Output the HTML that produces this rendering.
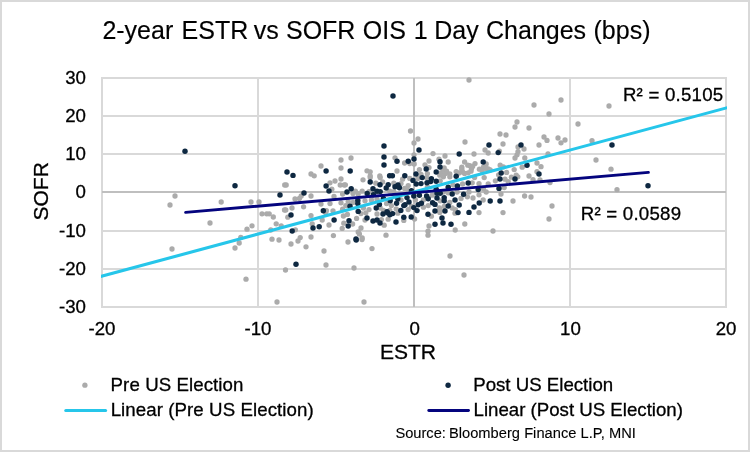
<!DOCTYPE html>
<html lang="en"><head><meta charset="utf-8"><title>2-year ESTR vs SOFR OIS 1 Day Changes (bps)</title>
<style>
html,body{margin:0;padding:0;background:#fff;}
body{width:750px;height:452px;overflow:hidden;}
svg{display:block;}
text{font-family:"Liberation Sans",Arial,sans-serif;fill:#000;stroke:#000;stroke-width:0.3px;}
.t{font-size:18.67px;}
</style></head><body>
<svg width="750" height="452" viewBox="0 0 750 452">
<rect x="0" y="0" width="750" height="452" fill="#fff"/>
<rect x="1" y="1" width="748" height="450" fill="none" stroke="#d9d9d9" stroke-width="2"/>

<g fill="#d9d9d9" shape-rendering="crispEdges">
<rect x="101" y="77" width="626" height="2"/>
<rect x="101" y="115" width="626" height="2"/>
<rect x="101" y="153" width="626" height="2"/>
<rect x="101" y="230" width="626" height="2"/>
<rect x="101" y="268" width="626" height="2"/>
<rect x="101" y="306" width="626" height="2"/>
<rect x="101" y="77" width="2" height="231"/>
<rect x="257" y="77" width="2" height="231"/>
<rect x="569" y="77" width="2" height="231"/>
<rect x="725" y="77" width="2" height="231"/>
</g>
<g fill="#bfbfbf" shape-rendering="crispEdges">
<rect x="102" y="191" width="624" height="2"/>
<rect x="413" y="78" width="2" height="229"/>
</g>
<g fill="#ababab">
<circle cx="175.0" cy="196.0" r="2.65"/>
<circle cx="170.0" cy="205.0" r="2.65"/>
<circle cx="221.2" cy="202.0" r="2.65"/>
<circle cx="251.0" cy="202.0" r="2.65"/>
<circle cx="259.0" cy="202.0" r="2.65"/>
<circle cx="284.7" cy="185.0" r="2.65"/>
<circle cx="284.5" cy="210.0" r="2.65"/>
<circle cx="210.0" cy="223.0" r="2.65"/>
<circle cx="172.0" cy="249.0" r="2.65"/>
<circle cx="247.0" cy="229.2" r="2.65"/>
<circle cx="252.0" cy="225.8" r="2.65"/>
<circle cx="240.8" cy="237.5" r="2.65"/>
<circle cx="239.2" cy="243.0" r="2.65"/>
<circle cx="235.0" cy="248.0" r="2.65"/>
<circle cx="262.0" cy="213.8" r="2.65"/>
<circle cx="266.7" cy="213.8" r="2.65"/>
<circle cx="269.2" cy="213.8" r="2.65"/>
<circle cx="273.3" cy="217.0" r="2.65"/>
<circle cx="276.2" cy="223.8" r="2.65"/>
<circle cx="281.2" cy="225.8" r="2.65"/>
<circle cx="270.8" cy="230.0" r="2.65"/>
<circle cx="272.0" cy="239.2" r="2.65"/>
<circle cx="279.0" cy="240.0" r="2.65"/>
<circle cx="285.5" cy="270.0" r="2.65"/>
<circle cx="246.0" cy="279.2" r="2.65"/>
<circle cx="277.0" cy="302.0" r="2.65"/>
<circle cx="410.5" cy="131.0" r="2.65"/>
<circle cx="341.0" cy="160.0" r="2.65"/>
<circle cx="341.0" cy="168.0" r="2.65"/>
<circle cx="321.0" cy="166.0" r="2.65"/>
<circle cx="311.0" cy="174.0" r="2.65"/>
<circle cx="314.2" cy="175.8" r="2.65"/>
<circle cx="286.2" cy="185.0" r="2.65"/>
<circle cx="301.2" cy="196.0" r="2.65"/>
<circle cx="299.4" cy="198.4" r="2.65"/>
<circle cx="295.0" cy="199.0" r="2.65"/>
<circle cx="311.0" cy="196.0" r="2.65"/>
<circle cx="330.0" cy="182.8" r="2.65"/>
<circle cx="335.0" cy="181.0" r="2.65"/>
<circle cx="341.0" cy="179.0" r="2.65"/>
<circle cx="340.2" cy="185.0" r="2.65"/>
<circle cx="344.2" cy="185.0" r="2.65"/>
<circle cx="331.8" cy="189.2" r="2.65"/>
<circle cx="334.0" cy="196.4" r="2.65"/>
<circle cx="342.6" cy="194.0" r="2.65"/>
<circle cx="341.0" cy="202.8" r="2.65"/>
<circle cx="330.0" cy="203.6" r="2.65"/>
<circle cx="321.0" cy="204.0" r="2.65"/>
<circle cx="303.6" cy="206.8" r="2.65"/>
<circle cx="292.0" cy="208.0" r="2.65"/>
<circle cx="285.8" cy="210.0" r="2.65"/>
<circle cx="326.4" cy="210.6" r="2.65"/>
<circle cx="333.0" cy="210.8" r="2.65"/>
<circle cx="342.6" cy="209.2" r="2.65"/>
<circle cx="287.8" cy="217.2" r="2.65"/>
<circle cx="311.0" cy="215.6" r="2.65"/>
<circle cx="325.8" cy="212.8" r="2.65"/>
<circle cx="322.2" cy="220.0" r="2.65"/>
<circle cx="312.2" cy="223.8" r="2.65"/>
<circle cx="329.0" cy="225.0" r="2.65"/>
<circle cx="295.4" cy="229.8" r="2.65"/>
<circle cx="343.4" cy="216.0" r="2.65"/>
<circle cx="343.8" cy="223.2" r="2.65"/>
<circle cx="342.2" cy="228.4" r="2.65"/>
<circle cx="333.4" cy="235.6" r="2.65"/>
<circle cx="311.0" cy="237.0" r="2.65"/>
<circle cx="300.2" cy="237.6" r="2.65"/>
<circle cx="298.0" cy="241.0" r="2.65"/>
<circle cx="291.0" cy="244.0" r="2.65"/>
<circle cx="306.0" cy="246.8" r="2.65"/>
<circle cx="324.0" cy="251.0" r="2.65"/>
<circle cx="348.0" cy="242.0" r="2.65"/>
<circle cx="362.0" cy="239.5" r="2.65"/>
<circle cx="372.0" cy="248.6" r="2.65"/>
<circle cx="326.0" cy="265.0" r="2.65"/>
<circle cx="354.0" cy="268.0" r="2.65"/>
<circle cx="364.0" cy="302.0" r="2.65"/>
<circle cx="351.0" cy="158.0" r="2.65"/>
<circle cx="367.0" cy="170.8" r="2.65"/>
<circle cx="370.2" cy="171.8" r="2.65"/>
<circle cx="370.2" cy="175.8" r="2.65"/>
<circle cx="395.0" cy="157.8" r="2.65"/>
<circle cx="404.6" cy="163.0" r="2.65"/>
<circle cx="397.0" cy="171.0" r="2.65"/>
<circle cx="379.8" cy="176.0" r="2.65"/>
<circle cx="363.0" cy="179.8" r="2.65"/>
<circle cx="370.2" cy="177.4" r="2.65"/>
<circle cx="380.2" cy="177.6" r="2.65"/>
<circle cx="345.4" cy="184.8" r="2.65"/>
<circle cx="375.8" cy="183.2" r="2.65"/>
<circle cx="382.6" cy="182.0" r="2.65"/>
<circle cx="393.8" cy="183.2" r="2.65"/>
<circle cx="402.6" cy="179.2" r="2.65"/>
<circle cx="401.0" cy="183.6" r="2.65"/>
<circle cx="404.6" cy="188.4" r="2.65"/>
<circle cx="355.4" cy="191.2" r="2.65"/>
<circle cx="362.2" cy="191.2" r="2.65"/>
<circle cx="353.0" cy="193.6" r="2.65"/>
<circle cx="358.2" cy="194.0" r="2.65"/>
<circle cx="369.0" cy="191.6" r="2.65"/>
<circle cx="389.8" cy="191.2" r="2.65"/>
<circle cx="393.8" cy="191.6" r="2.65"/>
<circle cx="348.2" cy="201.6" r="2.65"/>
<circle cx="353.0" cy="202.4" r="2.65"/>
<circle cx="365.0" cy="200.8" r="2.65"/>
<circle cx="371.4" cy="200.0" r="2.65"/>
<circle cx="377.0" cy="199.2" r="2.65"/>
<circle cx="345.8" cy="205.6" r="2.65"/>
<circle cx="363.4" cy="208.0" r="2.65"/>
<circle cx="369.0" cy="209.6" r="2.65"/>
<circle cx="380.2" cy="208.0" r="2.65"/>
<circle cx="386.6" cy="203.6" r="2.65"/>
<circle cx="391.4" cy="205.6" r="2.65"/>
<circle cx="401.0" cy="200.0" r="2.65"/>
<circle cx="396.2" cy="208.8" r="2.65"/>
<circle cx="389.8" cy="210.4" r="2.65"/>
<circle cx="383.4" cy="210.4" r="2.65"/>
<circle cx="347.4" cy="214.4" r="2.65"/>
<circle cx="356.6" cy="218.4" r="2.65"/>
<circle cx="361.0" cy="213.6" r="2.65"/>
<circle cx="365.8" cy="212.8" r="2.65"/>
<circle cx="365.0" cy="220.0" r="2.65"/>
<circle cx="352.6" cy="224.0" r="2.65"/>
<circle cx="377.0" cy="214.0" r="2.65"/>
<circle cx="381.4" cy="219.6" r="2.65"/>
<circle cx="384.2" cy="225.2" r="2.65"/>
<circle cx="388.2" cy="219.2" r="2.65"/>
<circle cx="397.8" cy="213.2" r="2.65"/>
<circle cx="403.8" cy="220.4" r="2.65"/>
<circle cx="361.0" cy="228.0" r="2.65"/>
<circle cx="358.2" cy="232.0" r="2.65"/>
<circle cx="359.4" cy="234.0" r="2.65"/>
<circle cx="362.2" cy="238.0" r="2.65"/>
<circle cx="386.0" cy="235.2" r="2.65"/>
<circle cx="469.0" cy="80.0" r="2.65"/>
<circle cx="418.0" cy="139.0" r="2.65"/>
<circle cx="414.0" cy="143.0" r="2.65"/>
<circle cx="465.0" cy="142.0" r="2.65"/>
<circle cx="500.0" cy="134.0" r="2.65"/>
<circle cx="506.0" cy="135.0" r="2.65"/>
<circle cx="517.0" cy="122.0" r="2.65"/>
<circle cx="515.0" cy="127.0" r="2.65"/>
<circle cx="529.0" cy="128.0" r="2.65"/>
<circle cx="503.0" cy="144.0" r="2.65"/>
<circle cx="518.0" cy="147.0" r="2.65"/>
<circle cx="524.0" cy="149.0" r="2.65"/>
<circle cx="485.0" cy="150.0" r="2.65"/>
<circle cx="518.0" cy="151.6" r="2.65"/>
<circle cx="433.0" cy="153.6" r="2.65"/>
<circle cx="474.0" cy="154.0" r="2.65"/>
<circle cx="488.2" cy="153.0" r="2.65"/>
<circle cx="445.0" cy="156.0" r="2.65"/>
<circle cx="414.0" cy="154.8" r="2.65"/>
<circle cx="429.0" cy="161.0" r="2.65"/>
<circle cx="439.0" cy="159.2" r="2.65"/>
<circle cx="448.2" cy="162.0" r="2.65"/>
<circle cx="425.0" cy="164.8" r="2.65"/>
<circle cx="414.2" cy="164.0" r="2.65"/>
<circle cx="409.8" cy="163.6" r="2.65"/>
<circle cx="419.4" cy="169.6" r="2.65"/>
<circle cx="429.0" cy="167.6" r="2.65"/>
<circle cx="444.2" cy="168.0" r="2.65"/>
<circle cx="446.6" cy="171.2" r="2.65"/>
<circle cx="441.0" cy="172.8" r="2.65"/>
<circle cx="449.8" cy="174.0" r="2.65"/>
<circle cx="456.2" cy="171.6" r="2.65"/>
<circle cx="461.8" cy="167.2" r="2.65"/>
<circle cx="464.6" cy="162.0" r="2.65"/>
<circle cx="462.6" cy="172.0" r="2.65"/>
<circle cx="427.4" cy="173.6" r="2.65"/>
<circle cx="421.0" cy="174.4" r="2.65"/>
<circle cx="409.8" cy="178.4" r="2.65"/>
<circle cx="417.8" cy="178.4" r="2.65"/>
<circle cx="426.6" cy="177.6" r="2.65"/>
<circle cx="443.4" cy="176.8" r="2.65"/>
<circle cx="449.8" cy="176.8" r="2.65"/>
<circle cx="440.2" cy="180.8" r="2.65"/>
<circle cx="408.2" cy="185.6" r="2.65"/>
<circle cx="406.6" cy="188.8" r="2.65"/>
<circle cx="427.4" cy="186.8" r="2.65"/>
<circle cx="453.0" cy="184.8" r="2.65"/>
<circle cx="462.6" cy="184.0" r="2.65"/>
<circle cx="443.4" cy="192.0" r="2.65"/>
<circle cx="448.2" cy="192.8" r="2.65"/>
<circle cx="457.0" cy="192.0" r="2.65"/>
<circle cx="461.0" cy="198.4" r="2.65"/>
<circle cx="432.2" cy="195.2" r="2.65"/>
<circle cx="415.4" cy="200.0" r="2.65"/>
<circle cx="423.4" cy="200.0" r="2.65"/>
<circle cx="440.2" cy="200.8" r="2.65"/>
<circle cx="449.8" cy="202.4" r="2.65"/>
<circle cx="411.4" cy="206.4" r="2.65"/>
<circle cx="423.4" cy="207.2" r="2.65"/>
<circle cx="428.2" cy="205.6" r="2.65"/>
<circle cx="439.4" cy="208.0" r="2.65"/>
<circle cx="444.2" cy="206.4" r="2.65"/>
<circle cx="452.2" cy="208.0" r="2.65"/>
<circle cx="455.4" cy="209.6" r="2.65"/>
<circle cx="408.2" cy="209.6" r="2.65"/>
<circle cx="440.2" cy="210.4" r="2.65"/>
<circle cx="414.6" cy="219.0" r="2.65"/>
<circle cx="431.4" cy="216.2" r="2.65"/>
<circle cx="439.8" cy="212.4" r="2.65"/>
<circle cx="455.0" cy="213.2" r="2.65"/>
<circle cx="429.0" cy="226.0" r="2.65"/>
<circle cx="428.0" cy="231.2" r="2.65"/>
<circle cx="428.0" cy="235.2" r="2.65"/>
<circle cx="455.2" cy="230.0" r="2.65"/>
<circle cx="464.8" cy="224.0" r="2.65"/>
<circle cx="450.0" cy="256.0" r="2.65"/>
<circle cx="464.0" cy="275.0" r="2.65"/>
<circle cx="499.4" cy="151.2" r="2.65"/>
<circle cx="517.0" cy="154.8" r="2.65"/>
<circle cx="515.0" cy="158.0" r="2.65"/>
<circle cx="524.8" cy="158.0" r="2.65"/>
<circle cx="475.0" cy="163.6" r="2.65"/>
<circle cx="486.2" cy="164.0" r="2.65"/>
<circle cx="469.8" cy="165.6" r="2.65"/>
<circle cx="500.2" cy="165.2" r="2.65"/>
<circle cx="503.4" cy="166.8" r="2.65"/>
<circle cx="471.4" cy="168.8" r="2.65"/>
<circle cx="479.4" cy="169.2" r="2.65"/>
<circle cx="483.4" cy="167.2" r="2.65"/>
<circle cx="488.2" cy="168.8" r="2.65"/>
<circle cx="468.2" cy="172.8" r="2.65"/>
<circle cx="522.2" cy="167.2" r="2.65"/>
<circle cx="514.2" cy="169.6" r="2.65"/>
<circle cx="506.6" cy="172.4" r="2.65"/>
<circle cx="498.6" cy="174.8" r="2.65"/>
<circle cx="516.2" cy="175.2" r="2.65"/>
<circle cx="484.2" cy="177.6" r="2.65"/>
<circle cx="474.6" cy="177.6" r="2.65"/>
<circle cx="495.4" cy="180.8" r="2.65"/>
<circle cx="505.0" cy="179.2" r="2.65"/>
<circle cx="508.2" cy="181.6" r="2.65"/>
<circle cx="511.4" cy="177.2" r="2.65"/>
<circle cx="517.8" cy="176.8" r="2.65"/>
<circle cx="472.2" cy="182.8" r="2.65"/>
<circle cx="479.0" cy="183.6" r="2.65"/>
<circle cx="488.2" cy="184.0" r="2.65"/>
<circle cx="504.2" cy="187.6" r="2.65"/>
<circle cx="483.4" cy="188.8" r="2.65"/>
<circle cx="486.2" cy="192.0" r="2.65"/>
<circle cx="469.0" cy="192.0" r="2.65"/>
<circle cx="479.0" cy="194.8" r="2.65"/>
<circle cx="501.0" cy="194.0" r="2.65"/>
<circle cx="524.6" cy="196.0" r="2.65"/>
<circle cx="467.4" cy="196.8" r="2.65"/>
<circle cx="473.0" cy="198.0" r="2.65"/>
<circle cx="483.2" cy="200.0" r="2.65"/>
<circle cx="513.0" cy="201.0" r="2.65"/>
<circle cx="479.0" cy="212.6" r="2.65"/>
<circle cx="503.0" cy="212.6" r="2.65"/>
<circle cx="493.0" cy="231.0" r="2.65"/>
<circle cx="534.0" cy="105.0" r="2.65"/>
<circle cx="561.0" cy="100.0" r="2.65"/>
<circle cx="549.0" cy="114.0" r="2.65"/>
<circle cx="609.0" cy="106.0" r="2.65"/>
<circle cx="578.0" cy="124.0" r="2.65"/>
<circle cx="544.0" cy="137.0" r="2.65"/>
<circle cx="547.0" cy="140.4" r="2.65"/>
<circle cx="558.0" cy="138.0" r="2.65"/>
<circle cx="565.0" cy="140.0" r="2.65"/>
<circle cx="561.0" cy="142.8" r="2.65"/>
<circle cx="539.0" cy="145.0" r="2.65"/>
<circle cx="592.0" cy="140.7" r="2.65"/>
<circle cx="548.0" cy="154.0" r="2.65"/>
<circle cx="596.0" cy="160.0" r="2.65"/>
<circle cx="537.0" cy="163.0" r="2.65"/>
<circle cx="541.0" cy="166.7" r="2.65"/>
<circle cx="611.0" cy="169.2" r="2.65"/>
<circle cx="537.0" cy="171.7" r="2.65"/>
<circle cx="529.0" cy="176.0" r="2.65"/>
<circle cx="533.0" cy="179.7" r="2.65"/>
<circle cx="540.0" cy="180.0" r="2.65"/>
<circle cx="550.0" cy="182.5" r="2.65"/>
<circle cx="617.0" cy="189.7" r="2.65"/>
<circle cx="531.0" cy="197.0" r="2.65"/>
<circle cx="552.0" cy="206.0" r="2.65"/>
<circle cx="549.0" cy="219.0" r="2.65"/>
<circle cx="459.0" cy="173.0" r="2.65"/>
<circle cx="464.6" cy="173.4" r="2.65"/>
<circle cx="471.0" cy="171.2" r="2.65"/>
<circle cx="467.8" cy="165.2" r="2.65"/>
<circle cx="461.8" cy="169.2" r="2.65"/>
<circle cx="472.6" cy="166.4" r="2.65"/>
<circle cx="439.8" cy="175.2" r="2.65"/>
<circle cx="445.4" cy="173.6" r="2.65"/>
<circle cx="443.0" cy="169.6" r="2.65"/>
<circle cx="486.2" cy="168.4" r="2.65"/>
<circle cx="482.2" cy="170.8" r="2.65"/>
<circle cx="490.2" cy="170.0" r="2.65"/>
</g>
<g fill="#0e2841">
<circle cx="185.0" cy="151.2" r="2.72"/>
<circle cx="235.0" cy="185.8" r="2.72"/>
<circle cx="280.0" cy="195.0" r="2.72"/>
<circle cx="393.0" cy="96.0" r="2.72"/>
<circle cx="384.0" cy="146.0" r="2.72"/>
<circle cx="326.1" cy="171.0" r="2.72"/>
<circle cx="287.0" cy="172.0" r="2.72"/>
<circle cx="293.0" cy="175.4" r="2.72"/>
<circle cx="304.0" cy="193.0" r="2.72"/>
<circle cx="326.1" cy="186.0" r="2.72"/>
<circle cx="329.0" cy="191.0" r="2.72"/>
<circle cx="323.3" cy="210.8" r="2.72"/>
<circle cx="291.0" cy="215.0" r="2.72"/>
<circle cx="313.0" cy="228.0" r="2.72"/>
<circle cx="319.2" cy="226.8" r="2.72"/>
<circle cx="334.1" cy="220.0" r="2.72"/>
<circle cx="292.2" cy="231.0" r="2.72"/>
<circle cx="356.2" cy="240.0" r="2.72"/>
<circle cx="296.0" cy="264.2" r="2.72"/>
<circle cx="384.0" cy="157.0" r="2.72"/>
<circle cx="384.0" cy="165.0" r="2.72"/>
<circle cx="350.2" cy="171.0" r="2.72"/>
<circle cx="397.0" cy="161.2" r="2.72"/>
<circle cx="389.6" cy="175.8" r="2.72"/>
<circle cx="392.4" cy="175.8" r="2.72"/>
<circle cx="404.8" cy="175.8" r="2.72"/>
<circle cx="370.2" cy="182.0" r="2.72"/>
<circle cx="380.0" cy="184.8" r="2.72"/>
<circle cx="388.2" cy="184.8" r="2.72"/>
<circle cx="386.2" cy="188.0" r="2.72"/>
<circle cx="395.0" cy="186.8" r="2.72"/>
<circle cx="398.0" cy="185.0" r="2.72"/>
<circle cx="399.4" cy="187.8" r="2.72"/>
<circle cx="351.2" cy="188.8" r="2.72"/>
<circle cx="347.0" cy="192.0" r="2.72"/>
<circle cx="373.0" cy="188.8" r="2.72"/>
<circle cx="377.0" cy="191.2" r="2.72"/>
<circle cx="380.2" cy="191.6" r="2.72"/>
<circle cx="367.2" cy="193.4" r="2.72"/>
<circle cx="373.4" cy="194.8" r="2.72"/>
<circle cx="357.8" cy="200.4" r="2.72"/>
<circle cx="357.8" cy="203.6" r="2.72"/>
<circle cx="350.0" cy="206.2" r="2.72"/>
<circle cx="358.2" cy="211.4" r="2.72"/>
<circle cx="376.2" cy="208.0" r="2.72"/>
<circle cx="379.4" cy="204.4" r="2.72"/>
<circle cx="390.2" cy="200.8" r="2.72"/>
<circle cx="396.6" cy="203.2" r="2.72"/>
<circle cx="397.8" cy="198.8" r="2.72"/>
<circle cx="403.8" cy="205.6" r="2.72"/>
<circle cx="400.8" cy="210.4" r="2.72"/>
<circle cx="387.0" cy="211.6" r="2.72"/>
<circle cx="383.4" cy="198.4" r="2.72"/>
<circle cx="349.0" cy="220.8" r="2.72"/>
<circle cx="348.2" cy="226.0" r="2.72"/>
<circle cx="367.0" cy="218.0" r="2.72"/>
<circle cx="373.0" cy="221.0" r="2.72"/>
<circle cx="377.0" cy="220.0" r="2.72"/>
<circle cx="380.0" cy="223.0" r="2.72"/>
<circle cx="383.0" cy="214.0" r="2.72"/>
<circle cx="387.4" cy="212.8" r="2.72"/>
<circle cx="389.8" cy="214.8" r="2.72"/>
<circle cx="392.6" cy="213.6" r="2.72"/>
<circle cx="396.0" cy="222.0" r="2.72"/>
<circle cx="403.8" cy="217.2" r="2.72"/>
<circle cx="356.0" cy="239.0" r="2.72"/>
<circle cx="419.0" cy="150.0" r="2.72"/>
<circle cx="489.0" cy="145.0" r="2.72"/>
<circle cx="521.0" cy="145.0" r="2.72"/>
<circle cx="498.2" cy="152.6" r="2.72"/>
<circle cx="459.2" cy="154.0" r="2.72"/>
<circle cx="414.0" cy="159.0" r="2.72"/>
<circle cx="408.2" cy="161.2" r="2.72"/>
<circle cx="440.0" cy="161.8" r="2.72"/>
<circle cx="440.0" cy="167.0" r="2.72"/>
<circle cx="426.2" cy="169.0" r="2.72"/>
<circle cx="436.2" cy="172.0" r="2.72"/>
<circle cx="416.0" cy="174.0" r="2.72"/>
<circle cx="456.2" cy="176.2" r="2.72"/>
<circle cx="413.0" cy="180.4" r="2.72"/>
<circle cx="416.2" cy="184.0" r="2.72"/>
<circle cx="422.2" cy="177.6" r="2.72"/>
<circle cx="421.0" cy="183.6" r="2.72"/>
<circle cx="427.0" cy="182.8" r="2.72"/>
<circle cx="431.4" cy="178.8" r="2.72"/>
<circle cx="430.6" cy="181.6" r="2.72"/>
<circle cx="436.2" cy="181.2" r="2.72"/>
<circle cx="457.4" cy="186.0" r="2.72"/>
<circle cx="448.2" cy="187.2" r="2.72"/>
<circle cx="436.2" cy="189.2" r="2.72"/>
<circle cx="411.4" cy="190.8" r="2.72"/>
<circle cx="437.0" cy="193.2" r="2.72"/>
<circle cx="440.2" cy="193.2" r="2.72"/>
<circle cx="452.2" cy="194.0" r="2.72"/>
<circle cx="463.6" cy="194.2" r="2.72"/>
<circle cx="413.8" cy="196.0" r="2.72"/>
<circle cx="419.4" cy="195.2" r="2.72"/>
<circle cx="426.6" cy="196.0" r="2.72"/>
<circle cx="428.2" cy="198.8" r="2.72"/>
<circle cx="437.0" cy="198.0" r="2.72"/>
<circle cx="444.2" cy="197.6" r="2.72"/>
<circle cx="444.2" cy="200.8" r="2.72"/>
<circle cx="455.0" cy="200.0" r="2.72"/>
<circle cx="407.0" cy="197.6" r="2.72"/>
<circle cx="409.0" cy="202.0" r="2.72"/>
<circle cx="405.0" cy="204.8" r="2.72"/>
<circle cx="418.2" cy="204.8" r="2.72"/>
<circle cx="421.4" cy="203.2" r="2.72"/>
<circle cx="432.6" cy="202.8" r="2.72"/>
<circle cx="435.0" cy="204.4" r="2.72"/>
<circle cx="448.2" cy="206.0" r="2.72"/>
<circle cx="459.2" cy="205.0" r="2.72"/>
<circle cx="413.8" cy="207.6" r="2.72"/>
<circle cx="417.0" cy="210.6" r="2.72"/>
<circle cx="435.0" cy="211.0" r="2.72"/>
<circle cx="445.0" cy="211.0" r="2.72"/>
<circle cx="458.0" cy="212.6" r="2.72"/>
<circle cx="411.2" cy="217.0" r="2.72"/>
<circle cx="428.0" cy="214.2" r="2.72"/>
<circle cx="442.0" cy="218.0" r="2.72"/>
<circle cx="443.0" cy="223.0" r="2.72"/>
<circle cx="435.0" cy="224.2" r="2.72"/>
<circle cx="451.0" cy="224.2" r="2.72"/>
<circle cx="483.2" cy="162.0" r="2.72"/>
<circle cx="501.2" cy="173.0" r="2.72"/>
<circle cx="468.2" cy="183.0" r="2.72"/>
<circle cx="500.0" cy="179.0" r="2.72"/>
<circle cx="515.0" cy="179.0" r="2.72"/>
<circle cx="478.2" cy="189.6" r="2.72"/>
<circle cx="499.0" cy="188.4" r="2.72"/>
<circle cx="490.2" cy="201.0" r="2.72"/>
<circle cx="500.0" cy="201.0" r="2.72"/>
<circle cx="479.2" cy="203.0" r="2.72"/>
<circle cx="474.0" cy="207.0" r="2.72"/>
<circle cx="469.0" cy="212.4" r="2.72"/>
<circle cx="612.0" cy="145.0" r="2.72"/>
<circle cx="527.0" cy="165.3" r="2.72"/>
<circle cx="539.0" cy="174.0" r="2.72"/>
<circle cx="648.0" cy="185.8" r="2.72"/>
</g>
<clipPath id="pc"><rect x="101" y="70" width="626" height="245"/></clipPath>
<line clip-path="url(#pc)" x1="95" y1="278.0" x2="732" y2="106.4" stroke="#26c6ea" stroke-width="3.1" stroke-linecap="round"/>
<line x1="185.6" y1="212.4" x2="648.4" y2="172.4" stroke="#04047e" stroke-width="2.9" stroke-linecap="round"/>
<text y="38.5" font-size="25px" style="stroke-width:0.15px"><tspan x="102.40">2-year</tspan> <tspan x="181.60">ESTR</tspan> <tspan x="253.82">vs</tspan> <tspan x="285.97">SOFR</tspan> <tspan x="362.76">OIS</tspan> <tspan x="413.77">1</tspan> <tspan x="434.22">Day</tspan> <tspan x="486.02">Changes</tspan> <tspan x="593.53">(bps)</tspan></text>
<text transform="translate(85.90,84.20) scale(1,1.02)" font-size="18.67px" text-anchor="end">30</text>
<text transform="translate(85.90,122.20) scale(1,1.02)" font-size="18.67px" text-anchor="end">20</text>
<text transform="translate(85.90,160.20) scale(1,1.02)" font-size="18.67px" text-anchor="end">10</text>
<text transform="translate(85.90,198.20) scale(1,1.02)" font-size="18.67px" text-anchor="end">0</text>
<text transform="translate(85.90,237.20) scale(1,1.02)" font-size="18.67px" text-anchor="end">-10</text>
<text transform="translate(85.90,275.20) scale(1,1.02)" font-size="18.67px" text-anchor="end">-20</text>
<text transform="translate(85.90,313.20) scale(1,1.02)" font-size="18.67px" text-anchor="end">-30</text>
<text transform="translate(102.00,334.60) scale(1,1.02)" font-size="18.67px" text-anchor="middle">-20</text>
<text transform="translate(258.00,334.60) scale(1,1.02)" font-size="18.67px" text-anchor="middle">-10</text>
<text transform="translate(414.60,334.60) scale(1,1.02)" font-size="18.67px" text-anchor="middle">0</text>
<text transform="translate(570.40,334.60) scale(1,1.02)" font-size="18.67px" text-anchor="middle">10</text>
<text transform="translate(726.10,334.60) scale(1,1.02)" font-size="18.67px" text-anchor="middle">20</text>
<text transform="translate(408.00,358.90) scale(1,1)" font-size="21px" text-anchor="middle">ESTR</text>
<text transform="translate(48.2,191.3) rotate(-90)" font-size="21px" text-anchor="middle">SOFR</text>
<text transform="translate(622.90,100.80) scale(1,1.02)" font-size="18.67px" letter-spacing="0.22">R² = 0.5105</text>
<text transform="translate(580.80,219.80) scale(1,1.02)" font-size="18.67px" letter-spacing="0.22">R² = 0.0589</text>
<circle cx="84.9" cy="385.2" r="2.65" fill="#ababab"/>
<text transform="translate(110.60,391.00) scale(1,1.02)" font-size="18.67px" letter-spacing="0.08">Pre US Election</text>
<line x1="65.8" y1="410.5" x2="105.6" y2="410.5" stroke="#26c6ea" stroke-width="3.1" stroke-linecap="round"/>
<text transform="translate(110.65,416.10) scale(1,1.02)" font-size="18.67px" letter-spacing="0.08">Linear (Pre US Election)</text>
<circle cx="448.1" cy="385.2" r="2.72" fill="#0e2841"/>
<text transform="translate(473.20,391.00) scale(1,1.02)" font-size="18.67px">Post US Election</text>
<line x1="428.8" y1="410.5" x2="468.5" y2="410.5" stroke="#04047e" stroke-width="2.9" stroke-linecap="round"/>
<text transform="translate(473.50,416.10) scale(1,1.02)" font-size="18.67px">Linear (Post US Election)</text>
<text transform="translate(395.40,437.70) scale(1,1.02)" font-size="14.67px" style="stroke-width:0.1px">Source:</text>
<text transform="translate(448.93,437.70) scale(1,1.02)" font-size="14.67px" letter-spacing="0.03" style="stroke-width:0.1px">Bloomberg Finance L.P, MNI</text>
</svg></body></html>
